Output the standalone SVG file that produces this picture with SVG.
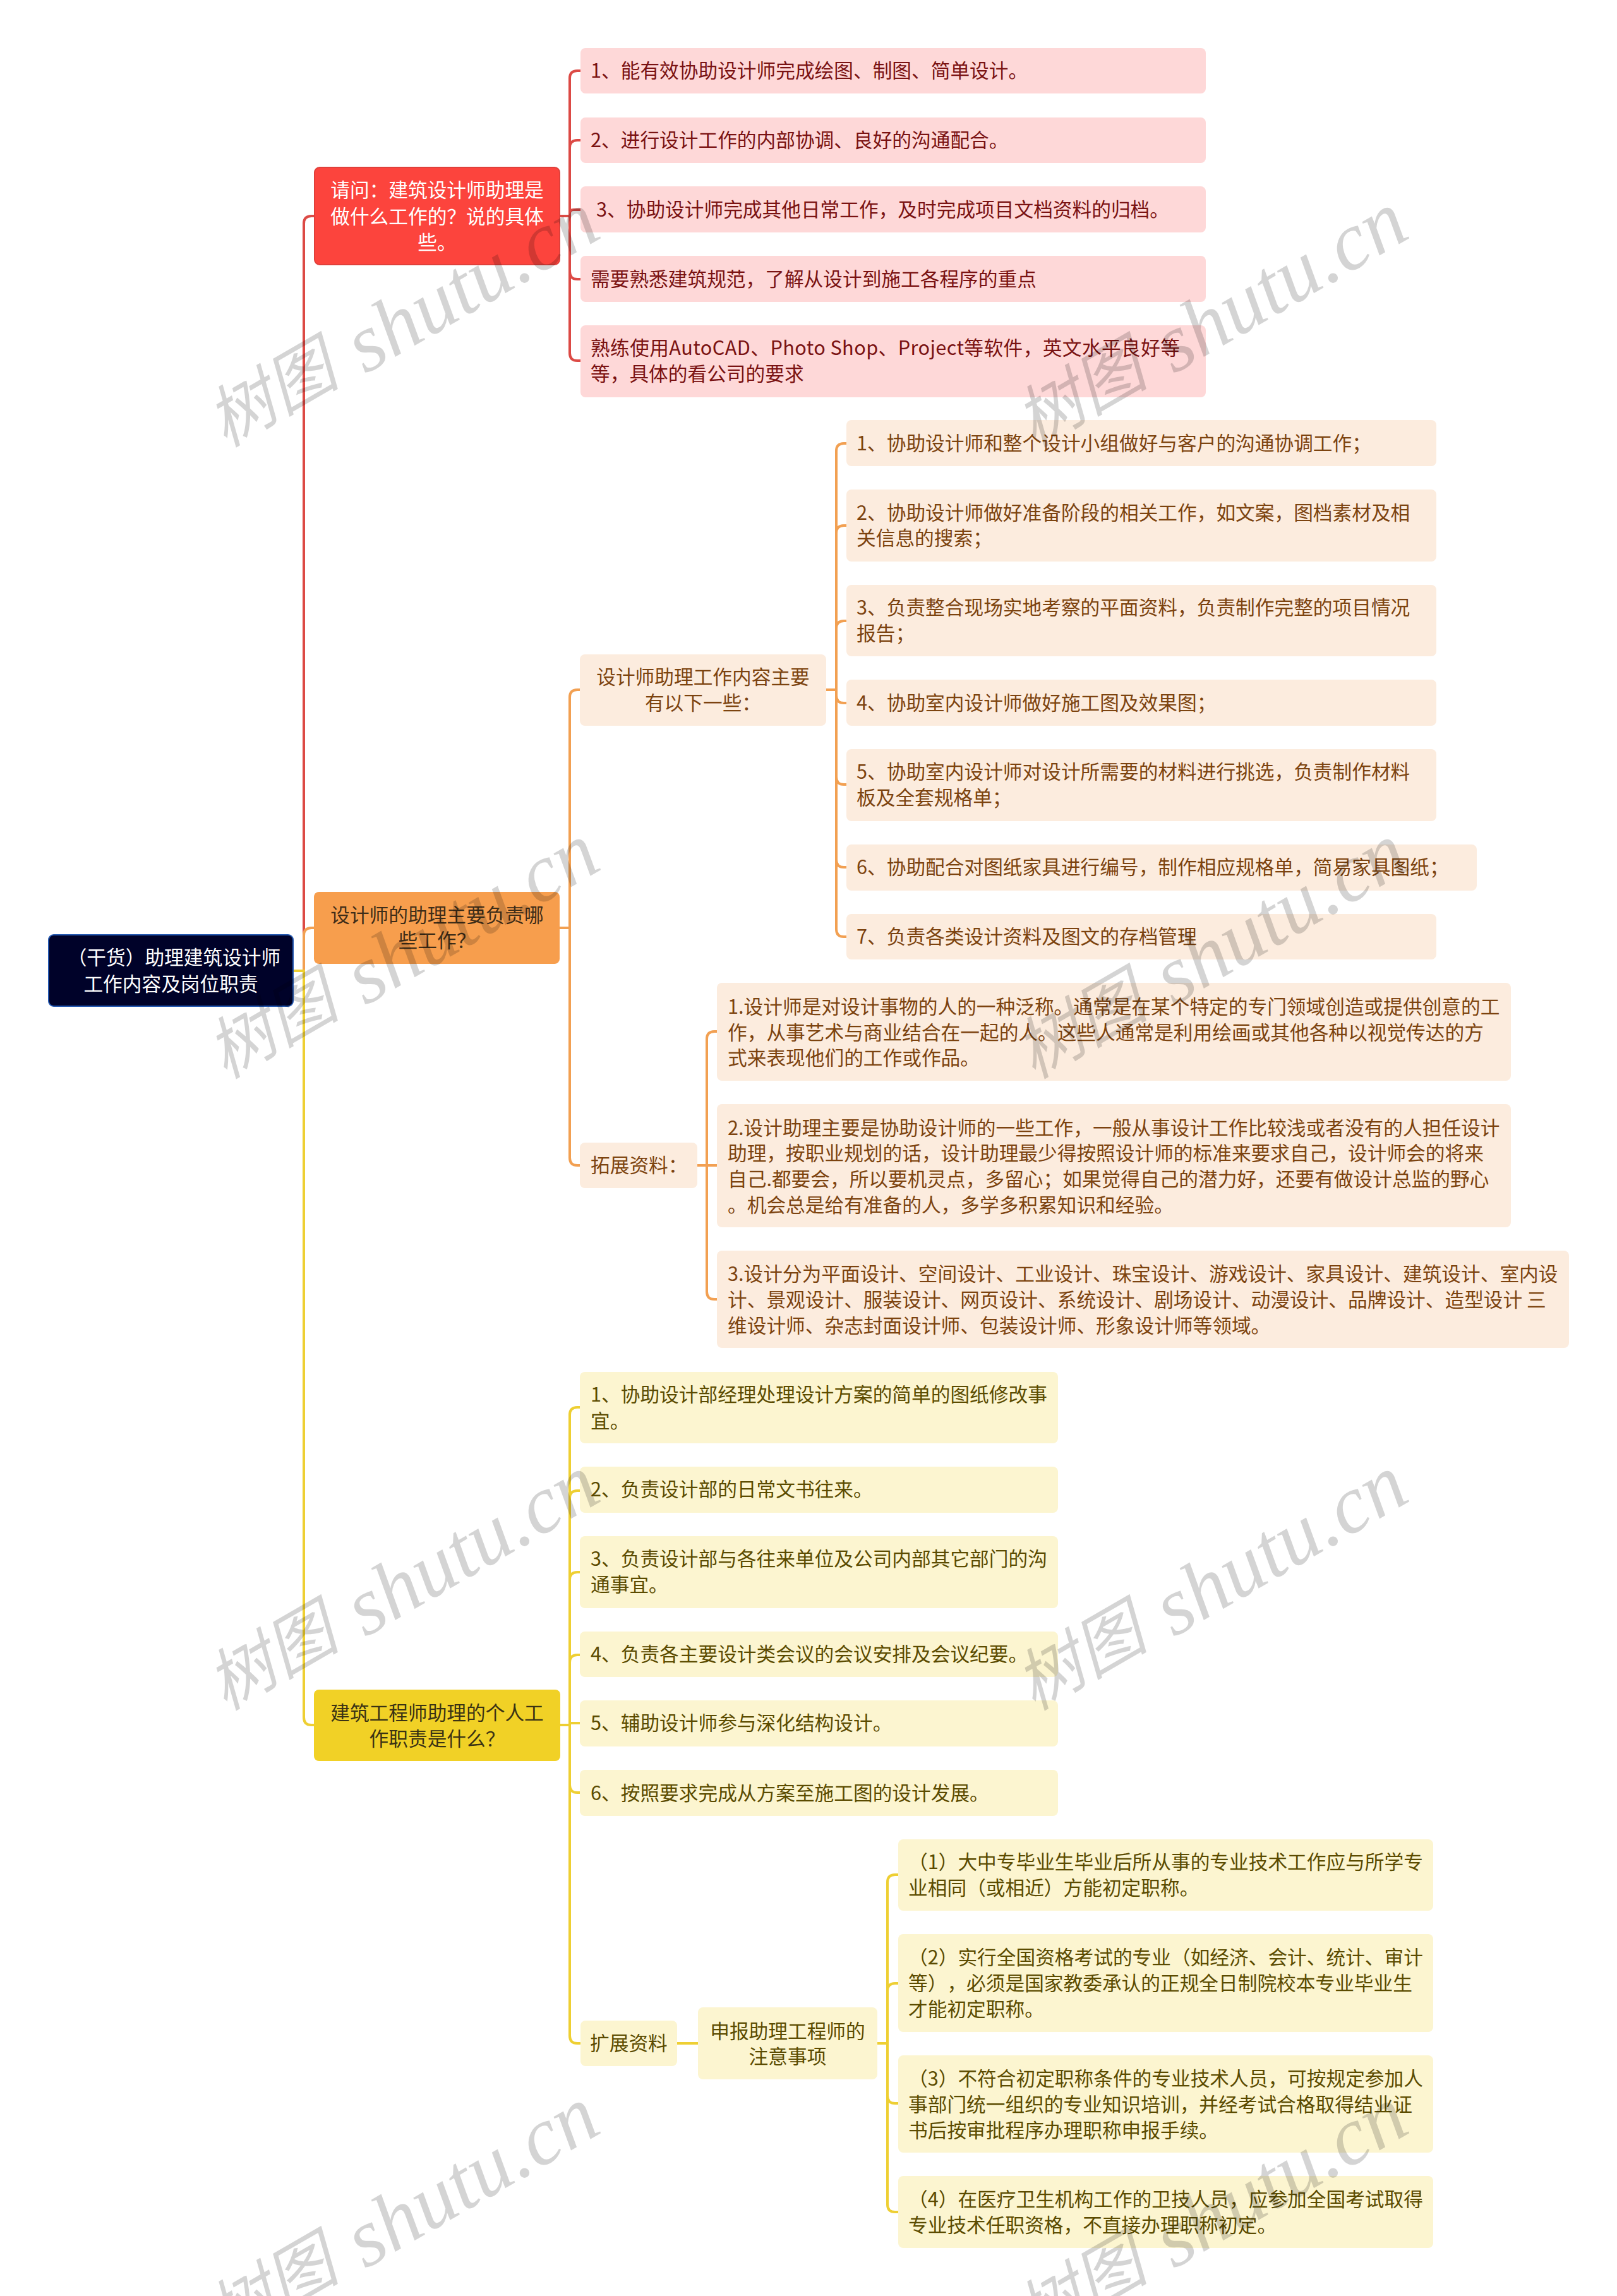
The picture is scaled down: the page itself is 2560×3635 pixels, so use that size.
<svg xmlns="http://www.w3.org/2000/svg" width="2560" height="3635" viewBox="0 0 2560 3635">
<defs>
<style>
text{font-family:"Noto Sans CJK SC","Microsoft YaHei",sans-serif;font-size:30.7px;white-space:pre;text-spacing-trim:space-all}
.m{text-anchor:middle}
.r{fill:#fed8d8}.o{fill:#fcecde}.y{fill:#fcf5d0}
.rt{fill:#7a1212}.ot{fill:#7c430f}.yt{fill:#5b4b00}
.c{fill:none;stroke-width:4;stroke-linecap:round}
.cr{stroke:#dc4a45}.co{stroke:#f2a052}.cy{stroke:#eecf33}
.w{fill:#000;fill-opacity:.17;font-style:italic}
.wl{font-family:"Liberation Serif",serif;font-size:130px}
.wc{font-family:"Noto Sans CJK SC",sans-serif;font-size:106px;font-weight:400}
</style>
<g id="wm">
<text class="w wc" x="-18" y="0" transform="rotate(-30)">树图</text>
<text class="w wl" x="232" y="10" transform="rotate(-30)">shutu.cn</text>
</g>
</defs>
<rect width="2560" height="3635" fill="#ffffff"/>
<g id="connectors">
<path class="c cr" d="M464 1537H481V354Q481 342 493 342H498"/>
<path class="c co" d="M464 1537H481V1481Q481 1469 493 1469H498"/>
<path class="c cy" d="M464 1537H481V2719Q481 2731 493 2731H498"/>
<path class="c cr" d="M886 342H902V124Q902 112 914 112H919M902 342V234Q902 222 914 222H919M902 342V338Q902 332 908 332H919M902 342V430Q902 442 914 442H919M902 342V559Q902 571 914 571H919"/>
<path class="c co" d="M886 1469H902V1104Q902 1092 914 1092H918M902 1469V1833Q902 1845 914 1845H918"/>
<path class="c co" d="M1307 1092H1324V714Q1324 702 1336 702H1340M1324 1092V844Q1324 832 1336 832H1340M1324 1092V995Q1324 983 1336 983H1340M1324 1092V1101Q1324 1113 1336 1113H1340M1324 1092V1230Q1324 1242 1336 1242H1340M1324 1092V1361Q1324 1373 1336 1373H1340M1324 1092V1471Q1324 1483 1336 1483H1340"/>
<path class="c co" d="M1104 1845H1135M1119 1845V1645Q1119 1633 1131 1633H1135M1119 1845V2045Q1119 2057 1131 2057H1135"/>
<path class="c cy" d="M886 2731H902V2240Q902 2228 914 2228H918M902 2731V2372Q902 2360 914 2360H918M902 2731V2501Q902 2489 914 2489H918M902 2731V2632Q902 2620 914 2620H918M902 2731V2728H918M902 2731V2826Q902 2838 914 2838H918M902 2731V3223Q902 3235 914 3235H918"/>
<path class="c cy" d="M1072 3235H1105"/>
<path class="c cy" d="M1389 3235H1405V2980Q1405 2968 1417 2968H1422M1405 3235V3152Q1405 3140 1417 3140H1422M1405 3235V3318Q1405 3330 1417 3330H1422M1405 3235V3490Q1405 3502 1417 3502H1422"/>
</g>

<g id="root"><rect x="77" y="1480" width="387" height="113" rx="8" fill="#000229" stroke="#2458b0" stroke-width="2"/>
<text class="m" fill="#fff" x="272" y="1527"> （干货）助理建筑设计师</text><text class="m" fill="#fff" x="270.5" y="1569">工作内容及岗位职责</text></g>

<g id="b1"><rect x="498" y="265" width="388" height="154" rx="8" fill="#fc443d" stroke="#e0403b" stroke-width="2"/>
<text class="m" fill="#fff" x="692" y="312">请问：建筑设计师助理是</text><text class="m" fill="#fff" x="692" y="354">做什么工作的？说的具体</text><text class="m" fill="#fff" x="692" y="395">些。</text></g>
<g id="n1-1"><rect class="r" x="919" y="76" width="990" height="72" rx="8"/><text class="rt" x="935" y="123">1、能有效协助设计师完成绘图、制图、简单设计。</text></g>
<g id="n1-2"><rect class="r" x="919" y="186" width="990" height="72" rx="8"/><text class="rt" x="935" y="233">2、进行设计工作的内部协调、良好的沟通配合。</text></g>
<g id="n1-3"><rect class="r" x="919" y="295" width="990" height="73" rx="8"/><text class="rt" x="944" y="343">3、协助设计师完成其他日常工作，及时完成项目文档资料的归档。</text></g>
<g id="n1-4"><rect class="r" x="919" y="405" width="990" height="73" rx="8"/><text class="rt" x="935" y="453">需要熟悉建筑规范，了解从设计到施工各程序的重点</text></g>
<g id="n1-5"><rect class="r" x="919" y="515" width="990" height="114" rx="8"/><text class="rt" x="935" y="562" textLength="933" lengthAdjust="spacing">熟练使用AutoCAD、Photo Shop、Project等软件，英文水平良好等</text><text class="rt" x="935" y="603">等，具体的看公司的要求</text></g>

<g id="b2"><rect x="497" y="1412" width="389" height="114" rx="8" fill="#f79e4d"/>
<text class="m" fill="#3f2d18" x="692" y="1460">设计师的助理主要负责哪</text><text class="m" fill="#3f2d18" x="692" y="1500">些工作？</text></g>
<g id="n2-a"><rect class="o" x="918" y="1036" width="390" height="113" rx="8"/><text class="m ot" x="1113" y="1083">设计师助理工作内容主要</text><text class="m ot" x="1113" y="1124">有以下一些：</text></g>
<g id="n2-a1"><rect class="o" x="1340" y="665" width="934" height="73" rx="8"/><text class="ot" x="1356" y="713">1、协助设计师和整个设计小组做好与客户的沟通协调工作；</text></g>
<g id="n2-a2"><rect class="o" x="1340" y="775" width="934" height="114" rx="8"/><text class="ot" x="1356" y="823">2、协助设计师做好准备阶段的相关工作，如文案，图档素材及相</text><text class="ot" x="1356" y="863">关信息的搜索；</text></g>
<g id="n2-a3"><rect class="o" x="1340" y="926" width="934" height="113" rx="8"/><text class="ot" x="1356" y="973">3、负责整合现场实地考察的平面资料，负责制作完整的项目情况</text><text class="ot" x="1356" y="1014">报告；</text></g>
<g id="n2-a4"><rect class="o" x="1340" y="1076" width="934" height="73" rx="8"/><text class="ot" x="1356" y="1124">4、协助室内设计师做好施工图及效果图；</text></g>
<g id="n2-a5"><rect class="o" x="1340" y="1186" width="934" height="114" rx="8"/><text class="ot" x="1356" y="1233">5、协助室内设计师对设计所需要的材料进行挑选，负责制作材料</text><text class="ot" x="1356" y="1274">板及全套规格单；</text></g>
<g id="n2-a6"><rect class="o" x="1340" y="1337" width="998" height="73" rx="8"/><text class="ot" x="1356" y="1384">6、协助配合对图纸家具进行编号，制作相应规格单，简易家具图纸；</text></g>
<g id="n2-a7"><rect class="o" x="1340" y="1447" width="934" height="72" rx="8"/><text class="ot" x="1356" y="1494">7、负责各类设计资料及图文的存档管理</text></g>
<g id="n2-b"><rect class="o" x="918" y="1809" width="186" height="72" rx="8"/><text class="ot" x="935" y="1856">拓展资料：</text></g>
<g id="n2-b1"><rect class="o" x="1135" y="1556" width="1257" height="155" rx="8"/><text class="ot" x="1152" y="1605">1.设计师是对设计事物的人的一种泛称。通常是在某个特定的专门领域创造或提供创意的工</text><text class="ot" x="1152" y="1646">作，从事艺术与商业结合在一起的人。这些人通常是利用绘画或其他各种以视觉传达的方</text><text class="ot" x="1152" y="1686">式来表现他们的工作或作品。</text></g>
<g id="n2-b2"><rect class="o" x="1135" y="1748" width="1257" height="195" rx="8"/><text class="ot" x="1152" y="1797">2.设计助理主要是协助设计师的一些工作，一般从事设计工作比较浅或者没有的人担任设计</text><text class="ot" x="1152" y="1837">助理，按职业规划的话，设计助理最少得按照设计师的标准来要求自己，设计师会的将来</text><text class="ot" x="1152" y="1878">自己.都要会，所以要机灵点，多留心；如果觉得自己的潜力好，还要有做设计总监的野心</text><text class="ot" x="1152" y="1919">。机会总是给有准备的人，多学多积累知识和经验。</text></g>
<g id="n2-b3"><rect class="o" x="1135" y="1980" width="1349" height="154" rx="8"/><text class="ot" x="1152" y="2028">3.设计分为平面设计、空间设计、工业设计、珠宝设计、游戏设计、家具设计、建筑设计、室内设</text><text class="ot" x="1152" y="2069">计、景观设计、服装设计、网页设计、系统设计、剧场设计、动漫设计、品牌设计、造型设计 三</text><text class="ot" x="1152" y="2110">维设计师、杂志封面设计师、包装设计师、形象设计师等领域。</text></g>

<g id="b3"><rect x="497" y="2675" width="390" height="113" rx="8" fill="#f1d126"/>
<text class="m" fill="#3a3214" x="692" y="2723">建筑工程师助理的个人工</text><text class="m" fill="#3a3214" x="692" y="2764">作职责是什么？</text></g>
<g id="n3-1"><rect class="y" x="918" y="2172" width="757" height="113" rx="8"/><text class="yt" x="935" y="2219">1、协助设计部经理处理设计方案的简单的图纸修改事</text><text class="yt" x="935" y="2261">宜。</text></g>
<g id="n3-2"><rect class="y" x="918" y="2322" width="757" height="73" rx="8"/><text class="yt" x="935" y="2369">2、负责设计部的日常文书往来。</text></g>
<g id="n3-3"><rect class="y" x="918" y="2432" width="757" height="114" rx="8"/><text class="yt" x="935" y="2479">3、负责设计部与各往来单位及公司内部其它部门的沟</text><text class="yt" x="935" y="2520">通事宜。</text></g>
<g id="n3-4"><rect class="y" x="918" y="2583" width="757" height="72" rx="8"/><text class="yt" x="935" y="2630">4、负责各主要设计类会议的会议安排及会议纪要。</text></g>
<g id="n3-5"><rect class="y" x="918" y="2692" width="757" height="73" rx="8"/><text class="yt" x="935" y="2739">5、辅助设计师参与深化结构设计。</text></g>
<g id="n3-6"><rect class="y" x="918" y="2802" width="757" height="73" rx="8"/><text class="yt" x="935" y="2850">6、按照要求完成从方案至施工图的设计发展。</text></g>
<g id="n3-7"><rect class="y" x="919" y="3199" width="153" height="72" rx="8"/><text class="yt" x="934" y="3246">扩展资料</text></g>
<g id="n3-8"><rect class="y" x="1105" y="3178" width="284" height="114" rx="8"/><text class="m yt" x="1247" y="3227">申报助理工程师的</text><text class="m yt" x="1247" y="3267">注意事项</text></g>
<g id="n3-8a"><rect class="y" x="1422" y="2912" width="847" height="113" rx="8"/><text class="yt" x="1438" y="2959">（1）大中专毕业生毕业后所从事的专业技术工作应与所学专</text><text class="yt" x="1438" y="3000">业相同（或相近）方能初定职称。</text></g>
<g id="n3-8b"><rect class="y" x="1422" y="3062" width="847" height="155" rx="8"/><text class="yt" x="1438" y="3110">（2）实行全国资格考试的专业（如经济、会计、统计、审计</text><text class="yt" x="1438" y="3151">等），必须是国家教委承认的正规全日制院校本专业毕业生</text><text class="yt" x="1438" y="3192">才能初定职称。</text></g>
<g id="n3-8c"><rect class="y" x="1422" y="3254" width="847" height="154" rx="8"/><text class="yt" x="1438" y="3302">（3）不符合初定职称条件的专业技术人员，可按规定参加人</text><text class="yt" x="1438" y="3343">事部门统一组织的专业知识培训，并经考试合格取得结业证</text><text class="yt" x="1438" y="3384">书后按审批程序办理职称申报手续。</text></g>
<g id="n3-8d"><rect class="y" x="1422" y="3445" width="847" height="114" rx="8"/><text class="yt" x="1438" y="3493">（4）在医疗卫生机构工作的卫技人员，应参加全国考试取得</text><text class="yt" x="1438" y="3534">专业技术任职资格，不直接办理职称初定。</text></g>

<g id="watermarks">
<use href="#wm" x="372" y="700"/><use href="#wm" x="1652" y="700"/>
<use href="#wm" x="372" y="1700"/><use href="#wm" x="1652" y="1700"/>
<use href="#wm" x="372" y="2700"/><use href="#wm" x="1652" y="2700"/>
<use href="#wm" x="372" y="3700"/><use href="#wm" x="1652" y="3700"/>
</g>
</svg>
